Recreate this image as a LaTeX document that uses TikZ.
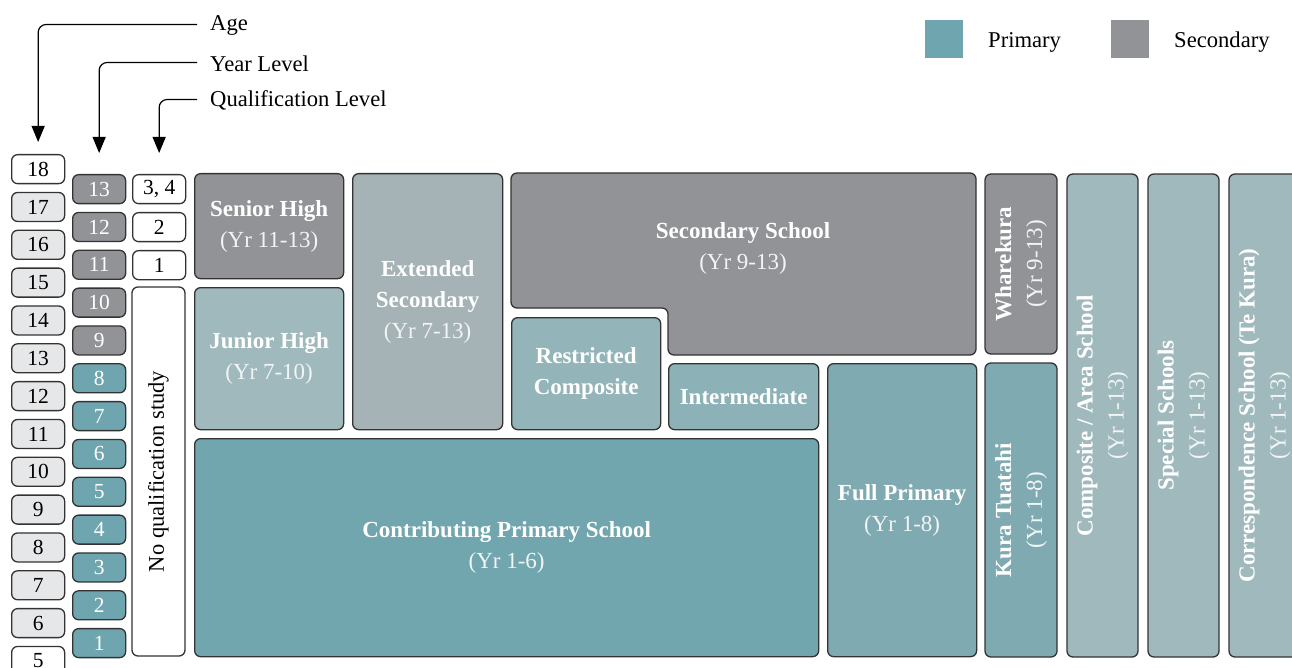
\documentclass[tikz,border=0pt]{standalone}
\usepackage{fontspec}
\setmainfont{Liberation Serif}
\usetikzlibrary{arrows.meta}
\definecolor{edge}{HTML}{333333}
\definecolor{secgrey}{HTML}{929397}
\definecolor{primteal}{HTML}{6FA5AE}
\definecolor{agegrey}{HTML}{E6E7E8}
\definecolor{lightteal}{HTML}{A0B9BD}
\definecolor{extgrey}{HTML}{A5B2B6}
\definecolor{restr}{HTML}{93B4B9}
\definecolor{interm}{HTML}{8CB2B8}
\definecolor{fullp}{HTML}{80AAB1}
\definecolor{contr}{HTML}{72A6AF}
\definecolor{subtxt}{HTML}{F2F5F6}
\newcommand\ttl[1]{\textbf{#1}}
\newcommand\yrs[1]{{\color{subtxt}#1}}
\begin{document}
\begin{tikzpicture}[x=1pt,y=-1pt,
  every node/.style={inner sep=0pt},
  box/.style={draw=edge, line width=1.3pt, rounded corners=6pt, anchor=north west,
     align=center, text=white, font=\fontsize{23}{31}\selectfont},
  vbox/.style={box, anchor=center, rotate=90},
  wh/.style 2 args={minimum width=#1pt, minimum height=#2pt},
  numbox/.style={box, wh={53}{29}, font=\fontsize{21.5}{25}\selectfont},
  lbl/.style={anchor=west, font=\fontsize{22.6}{26}\selectfont},
  arr/.style={draw=black, line width=1.2pt, rounded corners=8pt, -{Triangle[length=16pt,width=13pt]}},
  legsq/.style={anchor=north west, wh={38}{38}}
]
\clip (0,0) rectangle (1292,668);
\fill[white] (0,0) rectangle (1292,668);

% legend
\node[legsq, fill=primteal] (lprim) at (925,20) {};
\node[lbl] (lprimt) at (988,42.5) {Primary};
\node[legsq, fill=secgrey] (lsec) at (1111,20) {};
\node[lbl] (lsect) at (1174,42.5) {Secondary};

% age column
\foreach \a [count=\k from 0] in {18,17,...,5}{
  \ifnum\a=18 \def\fc{white}\else\ifnum\a=5 \def\fc{white}\else\def\fc{agegrey}\fi\fi
  \node[numbox, fill=\fc, text=black] (age\a) at (11,{154+\k*37.83}) {\a};
}
% year column
\foreach \y [count=\k from 0] in {13,12,...,1}{
  \ifnum\y>8 \def\fc{secgrey}\else\def\fc{primteal}\fi
  \node[numbox, fill=\fc] (yr\y) at (72,{174+\k*37.83}) {\y};
}
% qualification column
\node[numbox, fill=white, text=black] (q34) at (132,174) {3, 4};
\node[numbox, fill=white, text=black] (q2) at (132,212) {2};
\node[numbox, fill=white, text=black] (q1) at (132,250) {1};
\node[vbox, fill=white, text=black, wh={369}{53}, font=\fontsize{22.5}{26}\selectfont] (noqual) at (158.5,471.5) {No qualification study};

% top-left labels and arrows
\node[lbl] (agelbl) at (210,25.5) {Age};
\node[lbl] (yrlbl) at (210,63.5) {Year Level};
\node[lbl] (qlbl) at (210,100.5) {Qualification Level};
\draw[arr] ([xshift=-13pt,yshift=1pt]agelbl.west) -| ([yshift=12pt]age18.north);
\draw[arr] ([xshift=-13pt,yshift=1pt]yrlbl.west) -| ([yshift=21pt]yr13.north);
\draw[arr] ([xshift=-13pt,yshift=1pt]qlbl.west) -| ([yshift=21pt]q34.north);

% main schools
\node[box, fill=secgrey, wh={149}{105}] (senior) at (194,173) {\ttl{Senior High}\\\yrs{(Yr 11-13)}};
\node[box, fill=lightteal, wh={149}{142}] (junior) at (194,287) {\ttl{Junior High}\\\yrs{(Yr 7-10)}};
\node[box, fill=extgrey, wh={150}{256}] (extended) at (352,173) {\ttl{Extended}\\\ttl{Secondary}\\\yrs{(Yr 7-13)}};
\draw[draw=edge, line width=1.3pt, rounded corners=6pt, fill=secgrey]
  (511,173) -- (976,173) -- (976,355) -- (668,355) -- (668,308) -- (511,308) -- cycle;
\node[align=center, text=white, font=\fontsize{23}{31}\selectfont] (secondary) at (743,248.5) {\ttl{Secondary School}\\\yrs{(Yr 9-13)}};
\node[box, fill=restr, wh={149}{112}] (restricted) at (511,317) {\ttl{Restricted}\\\ttl{Composite}};
\node[box, fill=interm, wh={150}{66}] (intermediate) at (668,363) {\ttl{Intermediate}};
\node[box, fill=fullp, wh={149}{293}] (fullprim) at (827,363) {\ttl{Full Primary}\\\yrs{(Yr 1-8)}};
\node[box, fill=contr, wh={624}{218}] (contrib) at (194,438) {\ttl{Contributing Primary School}\\\yrs{(Yr 1-6)}};

% vertical columns
\node[vbox, fill=secgrey, wh={180}{72}] (whare) at (1021,264) {\ttl{Wharekura}\\\yrs{(Yr 9-13)}};
\node[vbox, fill=fullp, wh={294}{72}] (kura) at (1021,510) {\ttl{Kura Tuatahi}\\\yrs{(Yr 1-8)}};
\node[vbox, fill=lightteal, wh={483}{71}] (composite) at (1102.5,415.5) {\ttl{Composite / Area School}\\\yrs{(Yr 1-13)}};
\node[vbox, fill=lightteal, wh={483}{71}] (special) at (1183.5,415.5) {\ttl{Special Schools}\\\yrs{(Yr 1-13)}};
\node[vbox, fill=lightteal, wh={483}{71}] (corresp) at (1264.5,415.5) {\ttl{Correspondence School (Te Kura)}\\\yrs{(Yr 1-13)}};
\end{tikzpicture}
\end{document}
